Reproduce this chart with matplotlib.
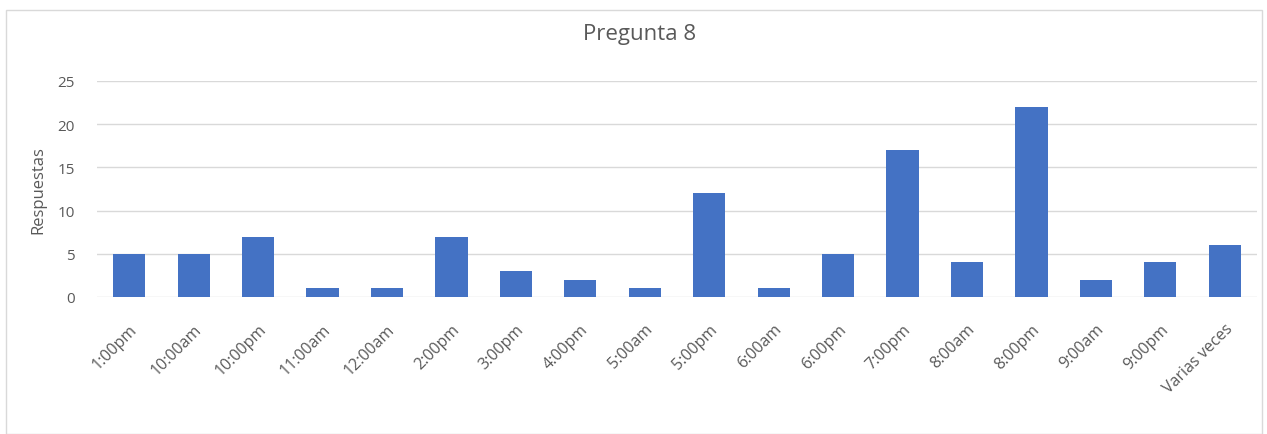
import matplotlib
matplotlib.use('Agg')
from matplotlib import pyplot as plt
from matplotlib.patches import Rectangle

categories = ['1:00pm', '10:00am', '10:00pm', '11:00am', '12:00am', '2:00pm',
              '3:00pm', '4:00pm', '5:00am', '5:00pm', '6:00am', '6:00pm',
              '7:00pm', '8:00am', '8:00pm', '9:00am', '9:00pm', 'Varias veces']
respuestas = [5, 5, 7, 1, 1, 7, 3, 2, 1, 12, 1, 5, 17, 4, 22, 2, 4, 6]

plt.rcParams['font.family'] = ['Open Sans', 'DejaVu Sans']
text_color = '#595959'

fig = plt.figure(figsize=(12.67, 4.35), dpi=100)
ax = fig.add_axes([0.0766, 0.315, 0.9155, 0.4965])

# chart border, like the office chart frame
fig.patches.append(Rectangle((6 / 1267, 0), 1256 / 1267, 1 - 11 / 435,
                             transform=fig.transFigure, fill=False,
                             edgecolor='#D9D9D9', linewidth=1))

positions = range(len(categories))
ax.bar(positions, respuestas, width=0.5, color='#4472C4', zorder=3)
ax.set_xlim(-0.5, len(categories) - 0.5)
ax.set_ylim(0, 25)
ax.set_yticks([0, 5, 10, 15, 20, 25])
ax.set_xticks(list(positions))
ax.set_xticklabels(categories, rotation=45, ha='right', rotation_mode='anchor')
ax.tick_params(axis='both', length=0, colors=text_color)
ax.tick_params(axis='y', pad=16, labelsize=11)
ax.tick_params(axis='x', pad=17, labelsize=11.5)
ax.grid(axis='y', color='#D9D9D9', linewidth=1, zorder=0)
for side in ['top', 'right', 'left', 'bottom']:
    ax.spines[side].set_visible(False)
ax.set_ylabel('Respuestas', color=text_color, fontsize=12, labelpad=8)
fig.text(0.505, 0.92, 'Pregunta 8', ha='center', va='center',
         color=text_color, fontsize=16)

fig.savefig('out.png', dpi=100)
